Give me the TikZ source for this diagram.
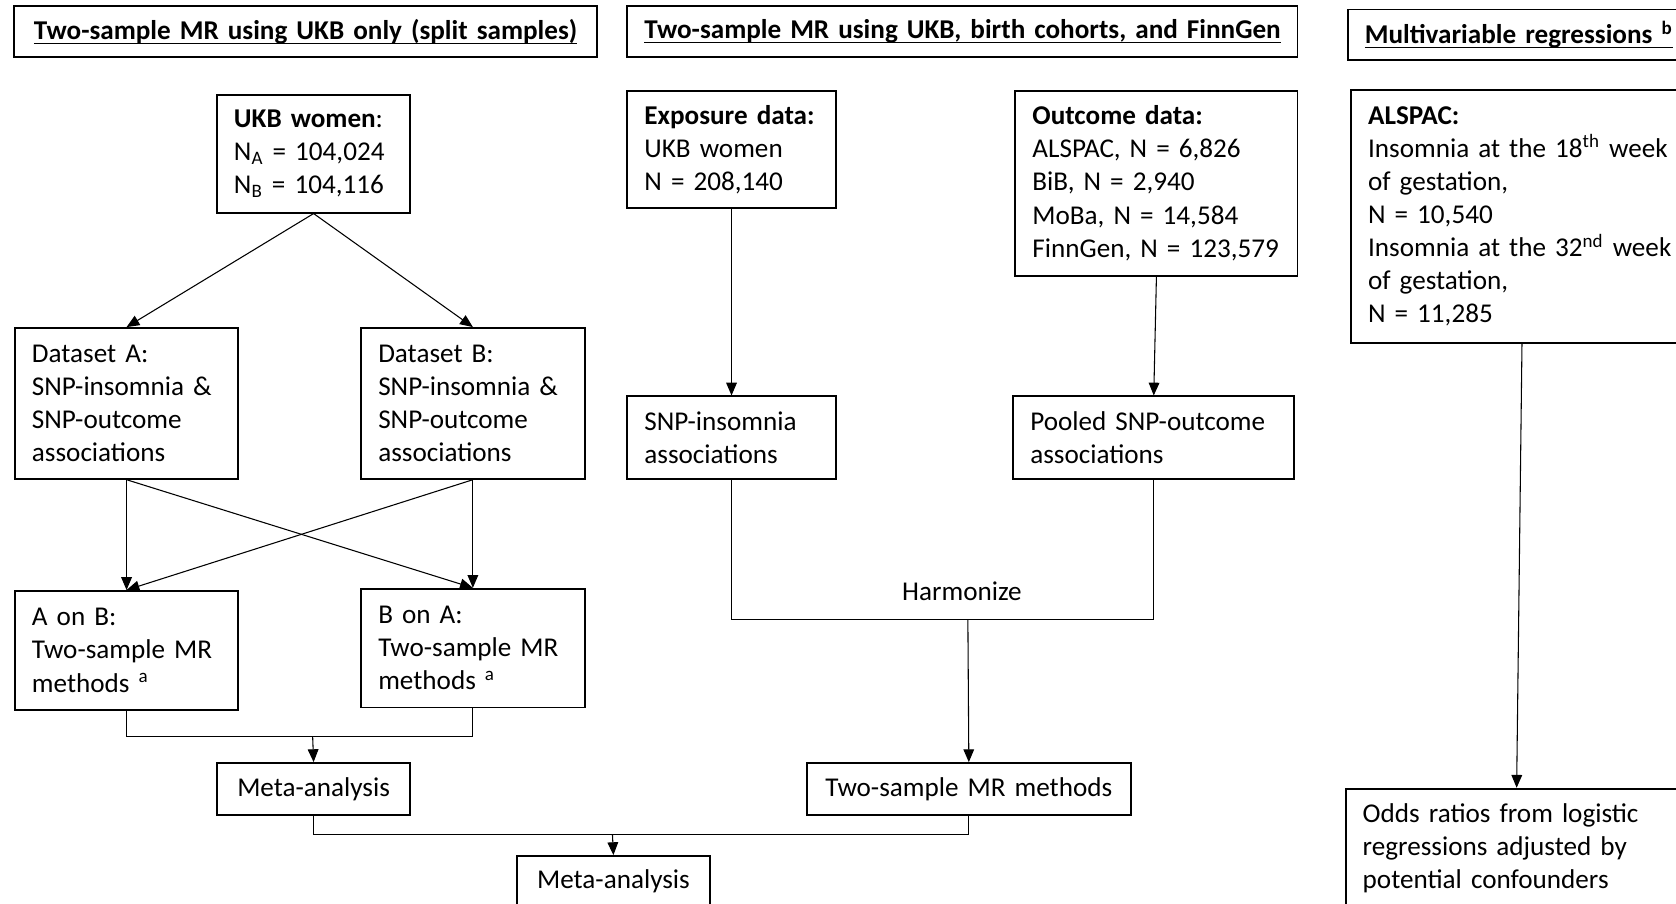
\documentclass[tikz,border=0pt]{standalone}
\usepackage{fontspec}
\setmainfont{Carlito}
\usetikzlibrary{arrows.meta,positioning}
\newsavebox\headsave
\newcommand\headul[1]{\sbox\headsave{#1}\rlap{\rule[-2.2pt]{\wd\headsave}{0.6pt}}\usebox\headsave}
\tikzset{
  box/.style={draw, line width=0.9pt, anchor=north west, align=left, inner xsep=8pt, inner ysep=4pt, font=\fontsize{12.7pt}{15.5pt}\selectfont},
  cbox/.style={box, align=center},
  headbox/.style={box, align=center, font=\fontsize{12.7pt}{15.5pt}\selectfont\bfseries},
  arrow/.style={-{Triangle[length=6pt,width=5pt]}, line width=0.5pt},
  link/.style={line width=0.5pt}
}
\begin{document}
\begin{tikzpicture}[x=0.5pt, y=-0.5pt]
  \useasboundingbox (0,0) rectangle (1568,845);

  % headings
  \node[headbox, text width=257pt, minimum height=23.5pt] (h1) at (12,5) {\headul{Two-sample MR using UKB only (split samples)}};
  \node[headbox, text width=297.5pt, minimum height=23.5pt] (h2) at (586,5) {\headul{Two-sample MR using UKB, birth cohorts, and FinnGen}};
  \node[headbox, align=left, text width=144pt, minimum height=23.5pt] (h3) at (1260,8) {\headul{Multivariable regressions \textsuperscript{b}}};

  % split samples
  \node[box, text width=74.5pt, minimum height=55pt] (ukb) at (202,88) {\textbf{UKB women}:\\N\textsubscript{A} = 104,024\\N\textsubscript{B} = 104,116};
  \node[box, text width=88.5pt, minimum height=70.5pt] (dsa) at (13,306) {Dataset A:\\SNP-insomnia \&\\SNP-outcome\\associations};
  \node[box, text width=88.5pt, minimum height=70.5pt] (dsb) at (337,306) {Dataset B:\\SNP-insomnia \&\\SNP-outcome\\associations};
  \node[box, text width=88.5pt, minimum height=55.5pt] (aonb) at (13,552) {A on B:\\Two-sample MR\\methods \textsuperscript{a}};
  \node[box, text width=88.5pt, minimum height=55.5pt] (bona) at (337,550) {B on A:\\Two-sample MR\\methods \textsuperscript{a}};
  \node[cbox, text width=74.5pt, minimum height=24.5pt] (metal) at (202,713) {Meta-analysis};
  \node[cbox, text width=74pt, minimum height=24pt] (metab) at (483,800) {Meta-analysis};

  % UKB + cohorts
  \node[box, text width=81.5pt, minimum height=55pt] (expo) at (586,84) {\textbf{Exposure data:}\\UKB women\\N = 208,140};
  \node[box, text width=116pt, minimum height=86.5pt] (outc) at (949,84) {\textbf{Outcome data:}\\ALSPAC, N = 6,826\\BiB, N = 2,940\\MoBa, N = 14,584\\FinnGen, N = 123,579};
  \node[box, text width=81.5pt, minimum height=38.5pt] (snpins) at (586,370) {SNP-insomnia\\associations};
  \node[box, text width=115.5pt, minimum height=38.5pt] (pooled) at (947,370) {Pooled SNP-outcome\\associations};
  \node[cbox, text width=135.5pt, minimum height=24.5pt] (mrm) at (754,713) {Two-sample MR methods};

  % regressions
  \node[box, text width=144pt, minimum height=118.5pt] (alspac) at (1263,83) {\textbf{ALSPAC:}\\Insomnia at the 18\textsuperscript{th} week\\of gestation,\\N = 10,540\\Insomnia at the 32\textsuperscript{nd} week\\of gestation,\\N = 11,285};
  \node[box, text width=144pt, minimum height=55.5pt] (odds) at (1258,737) {Odds ratios from logistic\\regressions adjusted by\\potential confounders};

  \coordinate (jl) at (292.5,689);
  \coordinate (jb) at (573,781);
  \coordinate (jh) at (905.5,580);
  \node[font=\fontsize{12.7pt}{15.5pt}\selectfont] (harm) at (900,553) {Harmonize};

  \draw[arrow] (ukb.south) -- (dsa.north);
  \draw[arrow] (ukb.south) -- (dsb.north);
  \draw[arrow] (dsa.south) -- (aonb.north);
  \draw[arrow] (dsa.south) -- (bona.north);
  \draw[arrow] (dsb.south) -- (aonb.north);
  \draw[arrow] (dsb.south) -- (bona.north);
  \draw[link] (aonb.south) |- (jl) -| (bona.south);
  \draw[arrow] (jl) -- (metal.north);

  \draw[arrow] (expo.south) -- (snpins.north);
  \draw[arrow] (outc.south) -- (pooled.north);
  \draw[link] (snpins.south) |- (jh) -| (pooled.south);
  \draw[arrow] (jh) -- (mrm.north);

  \draw[link] (metal.south) |- (jb) -| (mrm.south);
  \draw[arrow] (jb) -- (metab.north);

  \draw[arrow] (alspac.south) -- (odds.north);
\end{tikzpicture}
\end{document}
